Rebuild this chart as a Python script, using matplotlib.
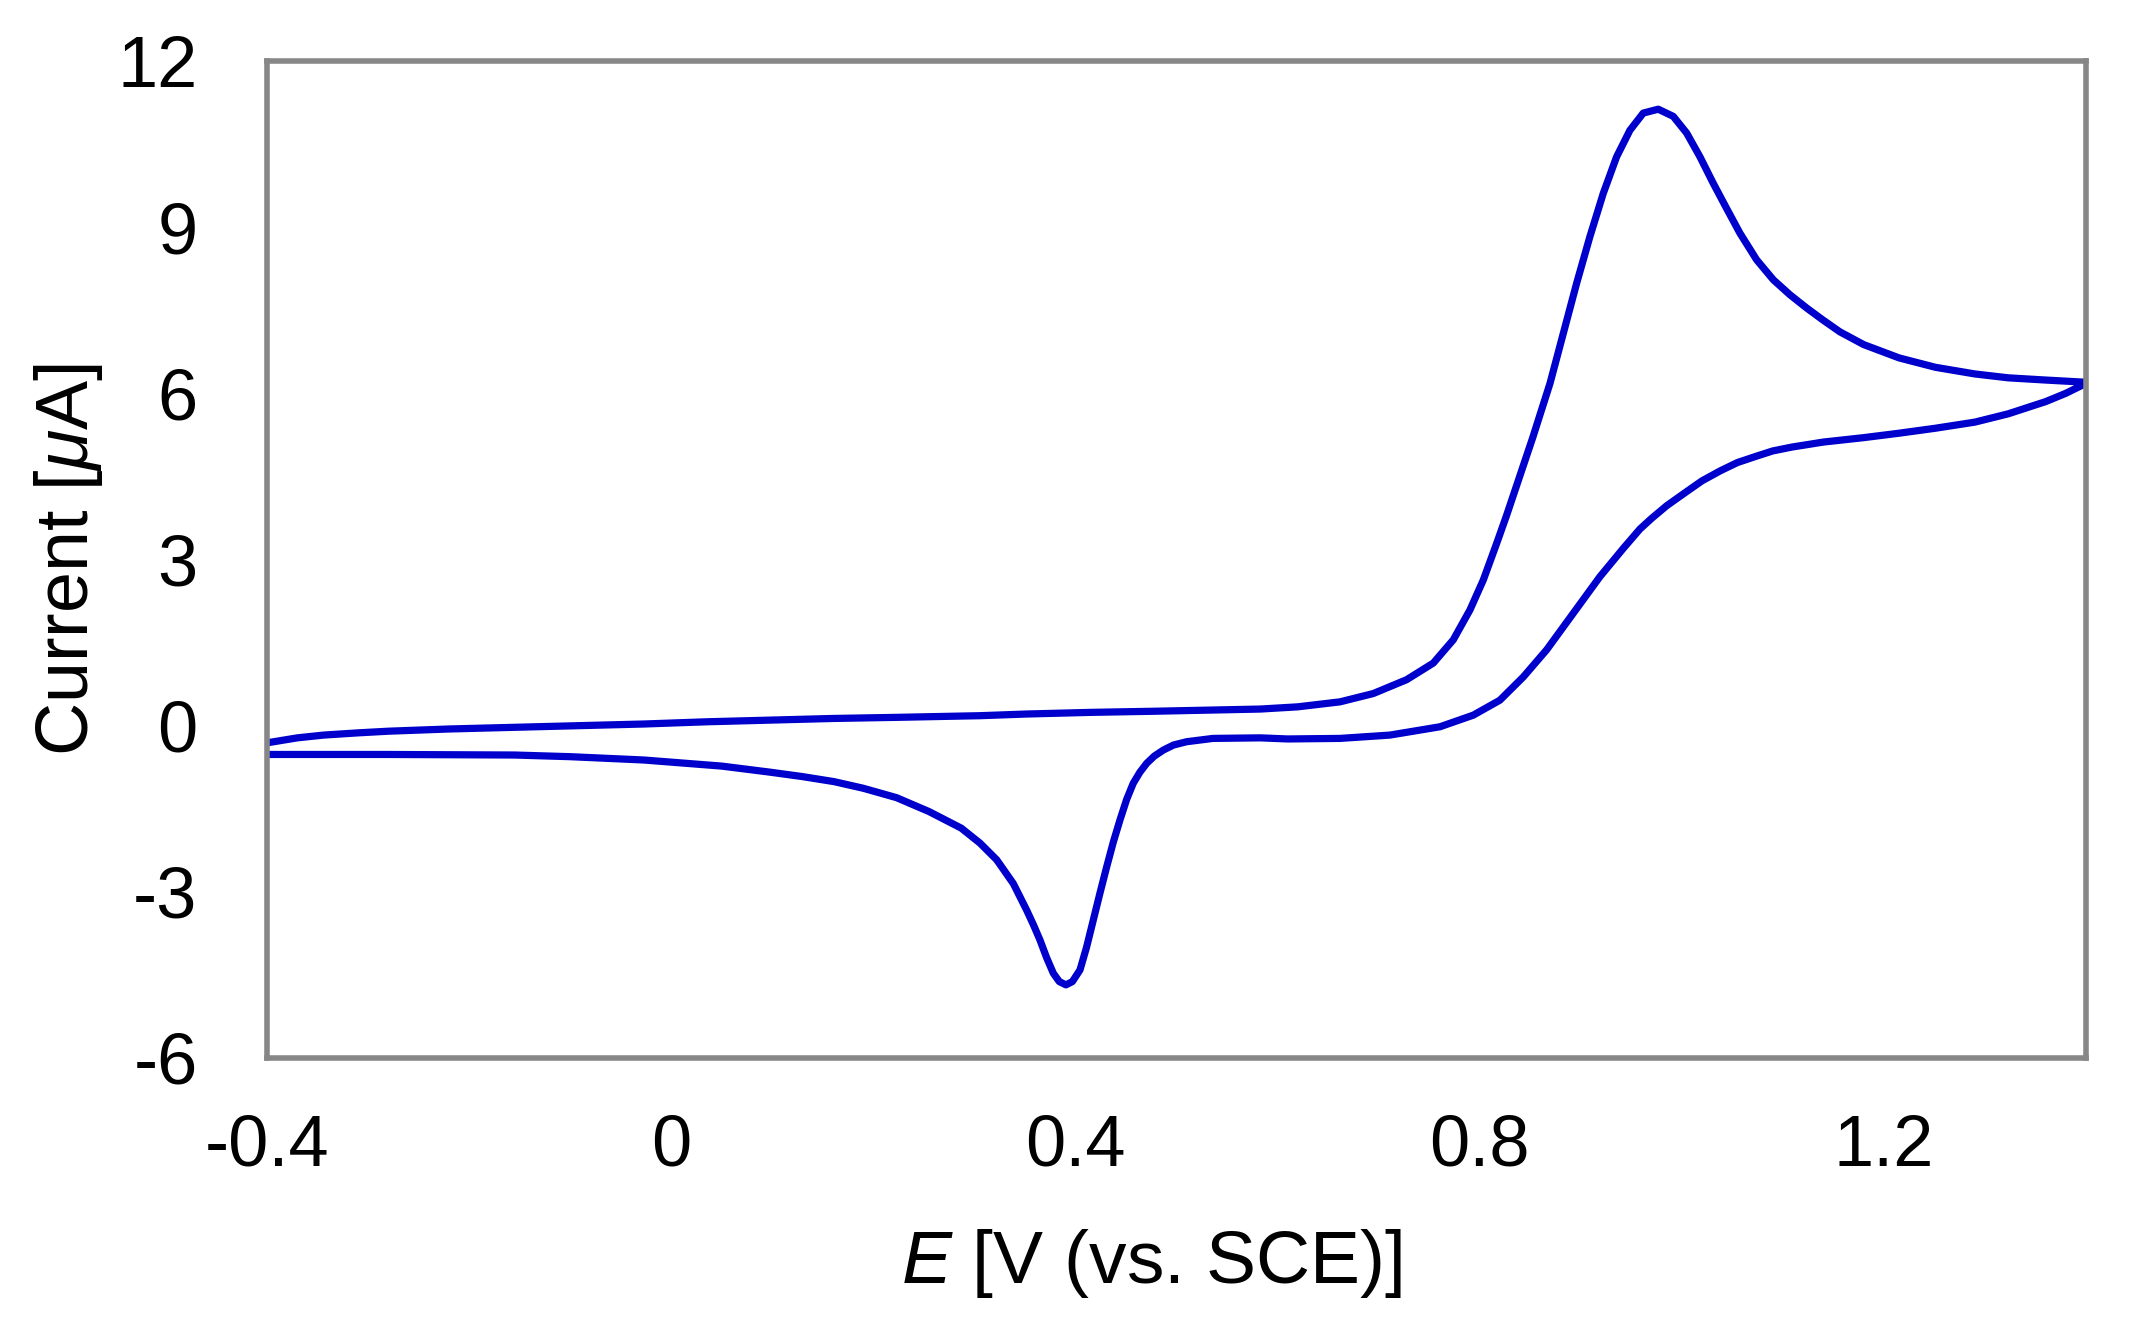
import matplotlib
matplotlib.use("Agg")
import matplotlib.pyplot as plt

plt.rcParams['font.family'] = ['Liberation Sans', 'DejaVu Sans']
plt.rcParams['mathtext.fontset'] = 'custom'
plt.rcParams['mathtext.rm'] = 'Liberation Sans'
plt.rcParams['mathtext.it'] = 'Liberation Sans:italic'
plt.rcParams['axes.unicode_minus'] = False

# Forward (anodic) scan: -0.4 V -> 1.4 V
E_forward = [-0.40, -0.37, -0.344, -0.31, -0.28, -0.22, -0.155, -0.09, -0.027, 0.035,
             0.098, 0.16, 0.223, 0.3055, 0.351, 0.415, 0.477, 0.53, 0.583, 0.62,
             0.6618, 0.6947, 0.7277, 0.7541, 0.7739, 0.7904, 0.8036, 0.8168,
             0.8267, 0.835, 0.8525, 0.8696, 0.8827, 0.896, 0.9091, 0.9223, 0.9355,
             0.9487, 0.9619, 0.9767, 0.9916, 1.0048, 1.018, 1.0312, 1.0443,
             1.0576, 1.0741, 1.0906, 1.107, 1.1236, 1.14, 1.1565, 1.18, 1.215,
             1.251, 1.29, 1.323, 1.36, 1.40]
I_forward = [-0.31, -0.22, -0.17, -0.13, -0.10, -0.06, -0.03, 0.00, 0.03, 0.07,
             0.10, 0.13, 0.15, 0.18, 0.21, 0.24, 0.26, 0.28, 0.30, 0.34,
             0.43, 0.58, 0.83, 1.13, 1.55, 2.09, 2.63, 3.29,
             3.80, 4.25, 5.20, 6.18, 7.08, 7.99, 8.83, 9.61, 10.27,
             10.75, 11.06, 11.13, 11.00, 10.70, 10.27, 9.79, 9.34,
             8.89, 8.41, 8.05, 7.78, 7.54, 7.32, 7.11, 6.88, 6.64,
             6.47, 6.35, 6.28, 6.24, 6.20]

# Reverse (cathodic) scan: 1.4 V -> -0.4 V
E_reverse = [1.40, 1.38, 1.36, 1.323, 1.29, 1.251, 1.215, 1.18, 1.14, 1.109, 1.09,
             1.073, 1.055, 1.038, 1.02, 1.002, 0.985, 0.97, 0.9586, 0.9421, 0.919,
             0.8927, 0.8663, 0.8432, 0.82, 0.7937, 0.7607, 0.7112, 0.6618,
             0.61, 0.583, 0.536, 0.510, 0.497, 0.487, 0.478, 0.4705, 0.4638,
             0.4572, 0.4507, 0.4441, 0.4375, 0.4309, 0.4243, 0.4177, 0.411,
             0.4045, 0.397, 0.3906, 0.384, 0.3781, 0.3715, 0.3649, 0.3583,
             0.3517, 0.3385, 0.322, 0.3055, 0.287, 0.255, 0.223, 0.19, 0.161,
             0.13, 0.098, 0.05, -0.027, -0.10, -0.155, -0.28, -0.40]
I_reverse = [6.18, 6.00, 5.85, 5.63, 5.48, 5.37, 5.28, 5.20, 5.12, 5.03, 4.96,
             4.86, 4.75, 4.60, 4.42, 4.19, 3.97, 3.74, 3.55, 3.20, 2.69,
             2.03, 1.37, 0.88, 0.46, 0.19, -0.02, -0.17, -0.23,
             -0.24, -0.22, -0.23, -0.29, -0.35, -0.44, -0.55, -0.68, -0.84,
             -1.04, -1.33, -1.70, -2.10, -2.55, -3.02, -3.51, -4.00,
             -4.41, -4.62, -4.68, -4.62, -4.47, -4.19, -3.87, -3.59,
             -3.33, -2.85, -2.42, -2.12, -1.85, -1.55, -1.30, -1.13, -1.01,
             -0.92, -0.84, -0.73, -0.62, -0.56, -0.53, -0.52, -0.52]

x_ticks = [-0.4, 0.0, 0.4, 0.8, 1.2]
x_tick_labels = ["-0.4", "0", "0.4", "0.8", "1.2"]
y_ticks = [-6, -3, 0, 3, 6, 9, 12]
y_tick_labels = ["-6", "-3", "0", "3", "6", "9", "12"]

E_all = E_forward + E_reverse
I_all = I_forward + I_reverse

fig = plt.figure(figsize=(21.29, 13.23), dpi=100)
ax = fig.add_axes([267/2129, 1 - 1058/1323, 1819/2129, 997/1323])

ax.plot(E_all, I_all, color='#0000CC', lw=5.2, solid_joinstyle='round',
        solid_capstyle='round')

ax.set_xlim(-0.4, 1.4)
ax.set_ylim(-6, 12)
ax.set_xticks(x_ticks)
ax.set_xticklabels(x_tick_labels)
ax.set_yticks(y_ticks)
ax.set_yticklabels(y_tick_labels)
ax.tick_params(axis='both', length=0, labelsize=52)
ax.tick_params(axis='x', pad=40)
ax.tick_params(axis='y', pad=50)

for s in ax.spines.values():
    s.set_color('#878787')
    s.set_linewidth(4.0)

ax.set_xlabel(r"$E$ [V (vs. SCE)]", fontsize=54)
ax.set_ylabel(r"Current [$\mu$A]", fontsize=53)
ax.xaxis.set_label_coords(0.486, -0.170)
ax.yaxis.set_label_coords(-0.089, 0.5)

fig.savefig("out.png", dpi=100)
